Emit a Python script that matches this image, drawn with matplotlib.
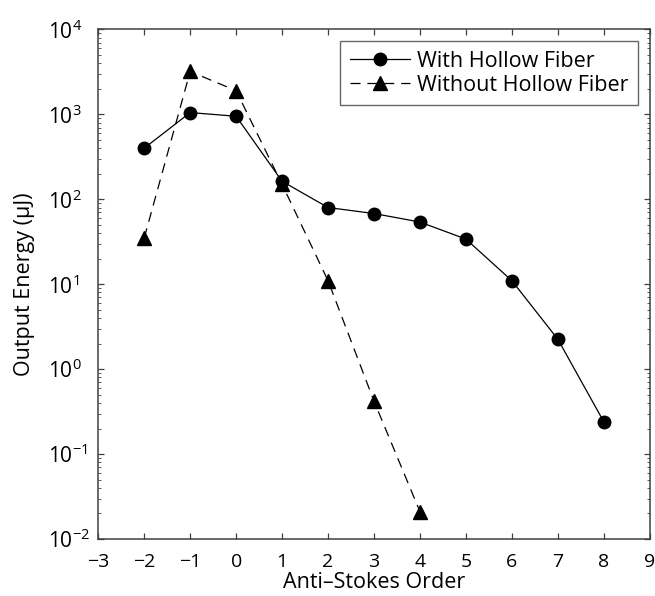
import matplotlib
matplotlib.use("Agg")
import matplotlib.pyplot as plt
import numpy as np
from matplotlib.ticker import LogLocator, NullFormatter, FixedLocator

plt.rcParams['font.family'] = ['Open Sans', 'DejaVu Sans']
plt.rcParams['mathtext.fontset'] = 'custom'
plt.rcParams['mathtext.rm'] = 'Open Sans'
plt.rcParams['mathtext.default'] = 'regular'

# data
order_with = [-2, -1, 0, 1, 2, 3, 4, 5, 6, 7, 8]
energy_with = [400, 1050, 950, 163, 80, 68, 54, 34, 11, 2.25, 0.24]

order_without = [-2, -1, 0, 1, 2, 3, 4]
energy_without = [35, 3200, 1900, 150, 11, 0.42, 0.021]

x_ticks = list(range(-3, 10))
y_ticks = [1e-2, 1e-1, 1e0, 1e1, 1e2, 1e3, 1e4]

fig = plt.figure(figsize=(6.55, 5.96), dpi=100)
ax = fig.add_axes([0.150, 0.0956, 0.842, 0.855])

ax.plot(order_with, energy_with, color='black', lw=0.9, marker='o',
        markersize=9, label='With Hollow Fiber')
ax.plot(order_without, energy_without, color='black', lw=0.9,
        linestyle=(0, (8, 5.5)), marker='^', markersize=9.5,
        label='Without Hollow Fiber')

ax.set_yscale('log')
ax.set_xlim(-3, 9)
ax.set_ylim(1e-2, 1e4)
ax.xaxis.set_major_locator(FixedLocator(x_ticks))
ax.yaxis.set_major_locator(FixedLocator(y_ticks))
ax.yaxis.set_minor_locator(LogLocator(base=10, subs=np.arange(2, 10), numticks=10))
ax.yaxis.set_minor_formatter(NullFormatter())

ax.tick_params(which='both', direction='in', top=True, right=True,
               color='#404040')
ax.tick_params(which='major', length=4.5, width=0.9)
ax.tick_params(which='minor', length=2.5, width=0.6)
ax.tick_params(axis='x', which='major', labelsize=14, pad=10)
ax.tick_params(axis='y', which='major', labelsize=15, pad=36.5)
for lab in ax.get_yticklabels():
    lab.set_horizontalalignment('left')
for s in ax.spines.values():
    s.set_linewidth(1.1)
    s.set_color('#404040')

ax.set_xlabel('Anti\u2013Stokes Order', fontsize=15.5, labelpad=1)
ax.set_ylabel('Output Energy (\u03bcJ)', fontsize=15.5, labelpad=9)

leg = ax.legend(loc='upper right', fontsize=15.5, frameon=True, fancybox=False,
                edgecolor='#404040', borderpad=0.45, labelspacing=0.12,
                handlelength=2.8, handletextpad=0.3, borderaxespad=0.55)
leg.get_frame().set_linewidth(1.0)

fig.savefig('out.png', dpi=100)
